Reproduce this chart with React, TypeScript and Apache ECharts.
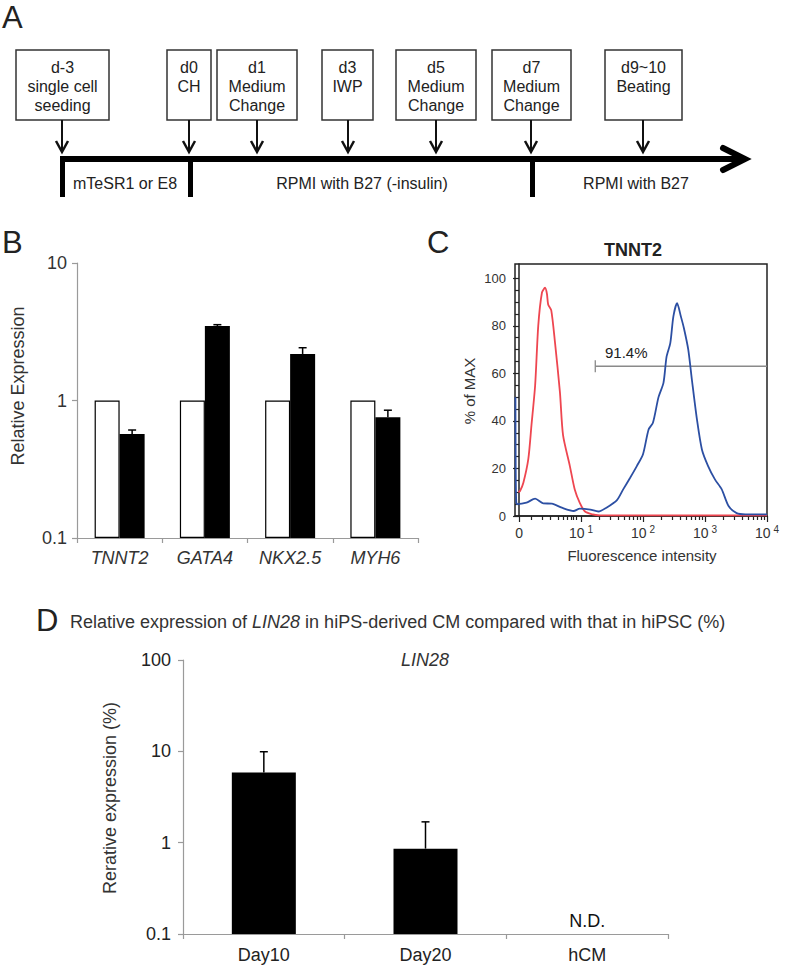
import React, { useEffect, useRef } from "react";
import * as echarts from "echarts";

// ---------- Panel A (protocol timeline) ----------
const stepLabels = [
  "d-3\nsingle cell\nseeding",
  "d0\nCH",
  "d1\nMedium\nChange",
  "d3\nIWP",
  "d5\nMedium\nChange",
  "d7\nMedium\nChange",
  "d9~10\nBeating",
];
const mediumLabels = ["mTeSR1 or E8", "RPMI with B27 (-insulin)", "RPMI with B27"];

// ---------- Panel B ----------
const geneCategories = ["TNNT2", "GATA4", "NKX2.5", "MYH6"];
const controlValues = [1, 1, 1, 1];
const cmValues = [0.57, 3.48, 2.18, 0.755];
const cmErrorTop = [0.61, 3.56, 2.42, 0.85];

// ---------- Panel C (flow cytometry, x in display decades) ----------
const redHistogram: [number, number][] = [
  [-0.01, 10], [0.016, 10.5], [0.07, 14], [0.15, 24], [0.2, 38], [0.26, 55],
  [0.31, 80], [0.37, 94], [0.42, 96], [0.45, 93.5], [0.47, 89], [0.52, 86.5],
  [0.58, 73], [0.66, 52], [0.71, 34], [0.82, 21], [0.9, 11], [0.98, 5.5],
  [1.06, 2], [1.17, 0.8], [1.3, 0.3], [4.0, 0.3],
];
const blueHistogram: [number, number][] = [
  [-0.058, 50], [-0.054, 20], [-0.045, 6], [-0.03, 5], [0.12, 5.6], [0.26, 7.3],
  [0.39, 5.3], [0.53, 5.2], [0.69, 3.5], [0.88, 2.1], [0.98, 3.1], [1.15, 2.7],
  [1.28, 1.9], [1.41, 3.5], [1.58, 6.7], [1.68, 11.2], [1.79, 16], [1.9, 21],
  [2.0, 26], [2.09, 36.4], [2.16, 39.2], [2.25, 50], [2.33, 56], [2.38, 67],
  [2.44, 72.7], [2.49, 84], [2.55, 89.5], [2.61, 84], [2.66, 79], [2.73, 70],
  [2.79, 57], [2.87, 40.6], [2.95, 28], [3.05, 21], [3.16, 15.4], [3.27, 11.2],
  [3.38, 4.2], [3.51, 1.2], [3.65, 0.7], [4.0, 0.7],
];
const gateStart = 1.23;
const gateEnd = 4;
const gateLevel = 63;
const gateLabel = "91.4%";
const gateLabelPoint: [number, number] = [1.73, 68.8];
const cDecadeTicks = [0, 1, 2, 3, 4];
const cMinorXTicks = [
  0.2, 0.37, 0.5, 0.63, 0.71, 0.78, 0.835, 0.88, 0.92,
  1.301, 1.477, 1.602, 1.699, 1.778, 1.845, 1.903, 1.954,
  2.301, 2.477, 2.602, 2.699, 2.778, 2.845, 2.903, 2.954,
  3.301, 3.477, 3.602, 3.699, 3.778, 3.845, 3.903, 3.954,
];
const cYMajorTicks = [0, 20, 40, 60, 80, 100];
const cYMinorTicks = [5, 10, 15, 25, 30, 35, 45, 50, 55, 65, 70, 75, 85, 90, 95];

// ---------- Panel D ----------
const dayCategories = ["Day10", "Day20", "hCM"];
const lin28Values: (number | null)[] = [5.85, 0.86, null];
const lin28ErrorTop: (number | null)[] = [9.9, 1.69, null];
const ndLabels: (string | null)[] = [null, null, "N.D."];

// ---------- layout (positions only) ----------
const FONT = "Liberation Sans, Arial, Helvetica, sans-serif";
const boxSpans = [[16, 109], [167, 211], [217, 297], [322, 373], [396, 476], [492, 571], [605, 682]];
const arrowXs = [62, 189, 257, 348, 436, 531, 643];
const mediumCenters = [125, 362, 636];
const dividerXs = [62.5, 190.5, 532.5];

function errorRenderer(offset: number, half: number) {
  return (params: any, api: any) => {
    const base = api.coord([api.value(0), api.value(1)]);
    const top = api.coord([api.value(0), api.value(2)]);
    const x = base[0] + offset;
    return {
      type: "group",
      children: [
        { type: "line", shape: { x1: x, y1: base[1], x2: x, y2: top[1] }, style: { stroke: "#000", lineWidth: 1.5 } },
        { type: "line", shape: { x1: x - half, y1: top[1], x2: x + half, y2: top[1] }, style: { stroke: "#000", lineWidth: 1.5 } },
      ],
    };
  };
}

function buildGraphic() {
  const g: any[] = [];
  const txt = (text: string, x: number, y: number, size: number, extra: any = {}, rotation = 0) => ({
    type: "text",
    x,
    y,
    rotation,
    silent: true,
    style: { text, fontSize: size, fontFamily: FONT, fill: "#222", align: "center", verticalAlign: "middle", ...extra },
  });
  // panel letters
  g.push(txt("A", 2, 17, 31, { align: "left" }));
  g.push(txt("B", 2, 242, 31, { align: "left" }));
  g.push(txt("C", 427, 242, 31, { align: "left" }));
  g.push(txt("D", 36, 620, 31, { align: "left" }));

  // panel A boxes and arrows
  stepLabels.forEach((label, i) => {
    const [x1, x2] = boxSpans[i];
    g.push({ type: "rect", shape: { x: x1, y: 50, width: x2 - x1, height: 70 }, style: { fill: "#fff", stroke: "#333", lineWidth: 1.5 }, silent: true });
    g.push({
      type: "text", x: (x1 + x2) / 2, y: 57.5, silent: true,
      style: { text: label, fontSize: 16, fontFamily: FONT, fill: "#222", align: "center", verticalAlign: "top", lineHeight: 19 },
    });
    const ax = arrowXs[i];
    g.push({ type: "line", shape: { x1: ax, y1: 120, x2: ax, y2: 151 }, style: { stroke: "#111", lineWidth: 2 }, silent: true });
    g.push({ type: "polyline", shape: { points: [[ax - 6, 141], [ax, 152], [ax + 6, 141]] }, style: { stroke: "#111", lineWidth: 2.5, fill: null }, silent: true });
  });
  g.push({ type: "line", shape: { x1: 60, y1: 159, x2: 744, y2: 159 }, style: { stroke: "#000", lineWidth: 6 }, silent: true });
  g.push({ type: "polyline", shape: { points: [[723, 148], [745, 159], [723, 170]] }, style: { stroke: "#000", lineWidth: 6, fill: null, lineCap: "round", lineJoin: "miter" }, silent: true });
  dividerXs.forEach((x) => {
    g.push({ type: "line", shape: { x1: x, y1: 156, x2: x, y2: 197 }, style: { stroke: "#000", lineWidth: 5 }, silent: true });
  });
  mediumLabels.forEach((m, i) => g.push(txt(m, mediumCenters[i], 183, 16)));

  // panel B axis title
  g.push(txt("Relative Expression", 18, 386, 18, { fill: "#333" }, Math.PI / 2));

  // panel C titles
  g.push(txt("TNNT2", 633, 250, 18, { fontWeight: "bold", fill: "#222" }));
  g.push(txt("% of MAX", 469, 391, 15, { fill: "#333" }, Math.PI / 2));
  g.push(txt("Fluorescence intensity", 642, 555, 15, { fill: "#333" }));

  // panel D titles
  g.push({
    type: "text", x: 70, y: 622, silent: true,
    style: {
      text: "Relative expression of {i|LIN28} in hiPS-derived CM compared with that in hiPSC (%)",
      fontSize: 18, fontFamily: FONT, fill: "#333", align: "left", verticalAlign: "middle",
      rich: { i: { fontStyle: "italic", fontSize: 18, fontFamily: FONT, fill: "#333" } },
    },
  });
  g.push(txt("LIN28", 425, 660, 18, { fontStyle: "italic", fill: "#333" }));
  g.push(txt("Rerative expression (%)", 110, 798, 18, { fill: "#333" }, Math.PI / 2));
  return g;
}

export default function App() {
  const ref = useRef<HTMLDivElement>(null);
  useEffect(() => {
    document.body.style.margin = "0";
    const chart = echarts.init(ref.current!, undefined, { renderer: "svg" });
    const grayAxis = { show: true, lineStyle: { color: "#9a9a9a", width: 1.2 } };
    const grayTick = { show: true, length: 5, lineStyle: { color: "#9a9a9a", width: 1.2 } };
    const blackAxis = { show: true, lineStyle: { color: "#222", width: 1.5 } };
    const option: any = {
      animation: false,
      backgroundColor: "#fff",
      grid: [
        { left: 77, top: 263, width: 341, height: 275 },
        { left: 515, top: 264, width: 252, height: 252, show: true, borderColor: "#222", borderWidth: 1.5 },
        { left: 515, top: 264, width: 252, height: 252 },
        { left: 183, top: 660, width: 485, height: 274 },
      ],
      xAxis: [
        {
          type: "category", gridIndex: 0, data: geneCategories,
          axisLine: grayAxis, axisTick: grayTick,
          axisLabel: { fontSize: 18, fontStyle: "italic", fontFamily: FONT, color: "#333", margin: 11 },
        },
        {
          type: "value", gridIndex: 1, min: -0.065, max: 4,
          axisLine: blackAxis, splitLine: { show: false },
          axisTick: { show: true, length: 6, customValues: cDecadeTicks, lineStyle: { color: "#222", width: 1.2 } },
          axisLabel: {
            customValues: cDecadeTicks, margin: 8,
            formatter: (v: number) => (v === 0 ? "{b|0}" : `{b|10}{s|${v}}`),
            rich: {
              b: { fontSize: 14, fontFamily: FONT, color: "#333", lineHeight: 18 },
              s: { fontSize: 10, fontFamily: FONT, color: "#333", lineHeight: 10, verticalAlign: "top", padding: [0, 0, 0, 3] },
            },
          },
        },
        {
          type: "value", gridIndex: 2, min: -0.065, max: 4,
          axisLine: { show: false }, splitLine: { show: false }, axisLabel: { show: false },
          axisTick: { show: true, length: 4, customValues: cMinorXTicks, lineStyle: { color: "#222", width: 1.2 } },
        },
        {
          type: "category", gridIndex: 3, data: dayCategories,
          axisLine: grayAxis, axisTick: grayTick,
          axisLabel: { fontSize: 18, fontFamily: FONT, color: "#222", margin: 12 },
        },
      ],
      yAxis: [
        {
          type: "log", logBase: 10, gridIndex: 0, min: 0.1, max: 10, startValue: 0.1,
          axisLine: grayAxis, axisTick: grayTick, splitLine: { show: false },
          axisLabel: { fontSize: 18, fontFamily: FONT, color: "#333", margin: 10 },
        },
        {
          type: "value", gridIndex: 1, min: 0, max: 106,
          axisLine: blackAxis, splitLine: { show: false },
          axisTick: { show: true, length: 6, customValues: cYMajorTicks, lineStyle: { color: "#222", width: 1.2 } },
          axisLabel: { customValues: cYMajorTicks, fontSize: 13, fontFamily: FONT, color: "#333", margin: 9 },
        },
        {
          type: "value", gridIndex: 2, min: 0, max: 106,
          axisLine: { show: false }, splitLine: { show: false }, axisLabel: { show: false },
          axisTick: { show: true, length: 4, customValues: cYMinorTicks, lineStyle: { color: "#222", width: 1.2 } },
        },
        {
          type: "log", logBase: 10, gridIndex: 3, min: 0.1, max: 100, startValue: 0.1,
          axisLine: grayAxis, axisTick: grayTick, splitLine: { show: false },
          axisLabel: { fontSize: 18, fontFamily: FONT, color: "#222", margin: 12 },
        },
      ],
      series: [
        {
          type: "bar", xAxisIndex: 0, yAxisIndex: 0, data: controlValues, barWidth: 25, barGap: "0%",
          itemStyle: { color: "#fff", borderColor: "#000", borderWidth: 1.2 },
        },
        {
          type: "bar", xAxisIndex: 0, yAxisIndex: 0, data: cmValues, barWidth: 25, barGap: "0%",
          itemStyle: { color: "#000" },
        },
        {
          type: "custom", xAxisIndex: 0, yAxisIndex: 0,
          data: cmValues.map((v, i) => [i, v, cmErrorTop[i]]),
          renderItem: errorRenderer(12.5, 4), z: 5,
        },
        {
          type: "line", xAxisIndex: 1, yAxisIndex: 1, data: redHistogram, showSymbol: false, smooth: 0.25,
          lineStyle: { color: "#ee4650", width: 1.8 }, silent: true,
        },
        {
          type: "line", xAxisIndex: 1, yAxisIndex: 1, data: blueHistogram, showSymbol: false, smooth: 0.25,
          lineStyle: { color: "#2c4fa3", width: 1.8 }, silent: true, z: 4,
        },
        {
          type: "line", xAxisIndex: 1, yAxisIndex: 1, data: [[gateStart, gateLevel], [gateEnd, gateLevel]], showSymbol: false,
          lineStyle: { color: "#8a8a8a", width: 1.3 }, silent: true,
        },
        {
          type: "line", xAxisIndex: 1, yAxisIndex: 1, data: [[gateStart, gateLevel - 2.5], [gateStart, gateLevel + 2.5]], showSymbol: false,
          lineStyle: { color: "#8a8a8a", width: 1.3 }, silent: true,
        },
        {
          type: "scatter", xAxisIndex: 1, yAxisIndex: 1, data: [gateLabelPoint], symbolSize: 0, silent: true,
          itemStyle: { opacity: 1 },
          label: { show: true, position: "inside", formatter: gateLabel, fontSize: 15, fontFamily: FONT, color: "#222", opacity: 1 },
        },
        {
          type: "bar", xAxisIndex: 3, yAxisIndex: 3, data: lin28Values.map((v) => (v == null ? "-" : v)), barWidth: 64,
          itemStyle: { color: "#000" },
        },
        {
          type: "custom", xAxisIndex: 3, yAxisIndex: 3,
          data: lin28Values.map((v, i) => (v == null ? null : [i, v, lin28ErrorTop[i]])).filter((d) => d !== null),
          renderItem: errorRenderer(0, 4), z: 5,
        },
        {
          type: "scatter", xAxisIndex: 3, yAxisIndex: 3, symbolSize: 0, silent: true,
          itemStyle: { opacity: 1 },
          data: ndLabels.map((t, i) => (t == null ? null : { value: [i, 0.1], name: t })).filter((d) => d !== null),
          label: { show: true, position: "top", distance: 4, formatter: "{b}", fontSize: 18, fontFamily: FONT, color: "#111", opacity: 1 },
        },
      ],
      graphic: buildGraphic(),
    };
    chart.setOption(option);
    return () => chart.dispose();
  }, []);
  return <div ref={ref} style={{ position: "absolute", left: 0, top: 0, width: 787, height: 968 }} />;
}
